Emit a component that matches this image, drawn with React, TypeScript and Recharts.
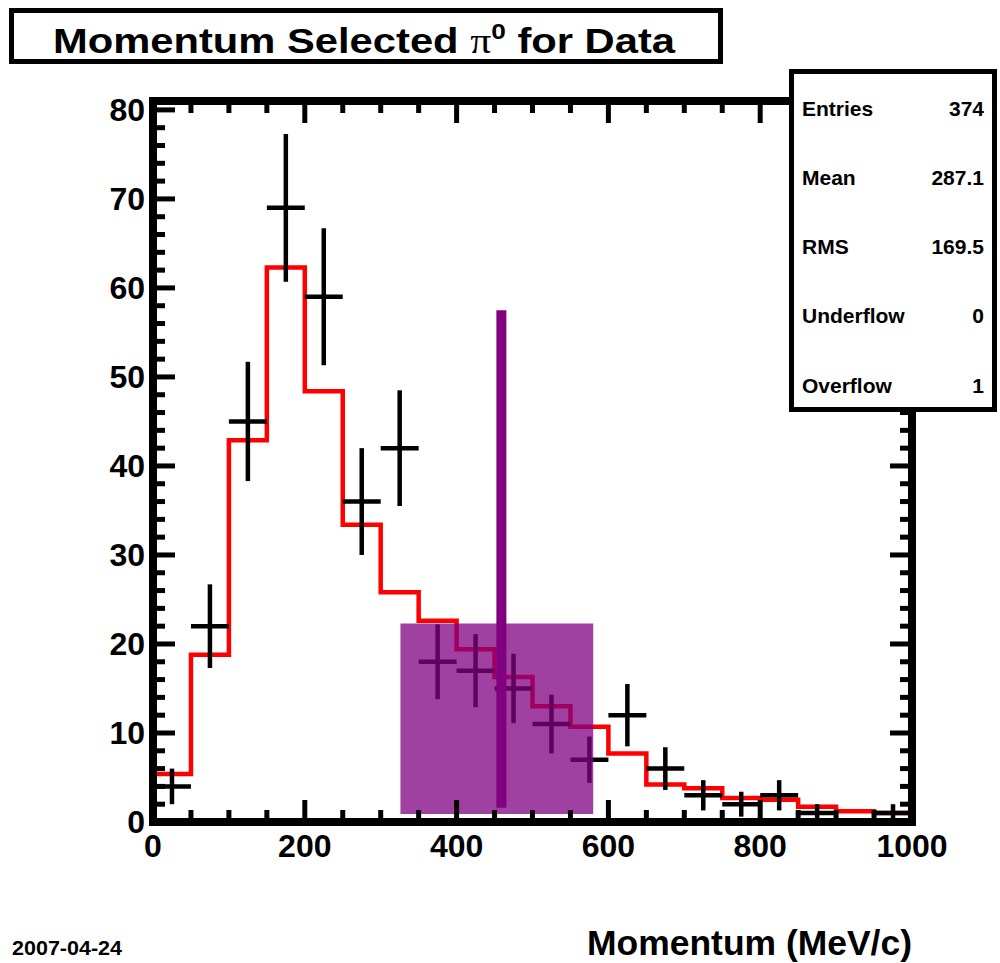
import React from 'react';
import { ComposedChart, Line, Scatter, ErrorBar, XAxis, YAxis, ReferenceArea, ReferenceLine } from 'recharts';

// histogram binning (MeV/c)
const binEdges = [0, 50, 100, 150, 200, 250, 300, 350, 400, 450, 500, 550, 600, 650, 700, 750, 800, 850, 900, 950, 1000];
const binCenters = [25, 75, 125, 175, 225, 275, 325, 375, 425, 475, 525, 575, 625, 675, 725, 775, 825, 875, 925, 975];

// red histogram (expectation)
const mcCounts = [5.4, 18.8, 42.9, 62.3, 48.4, 33.4, 25.8, 22.6, 19.4, 16.3, 13.0, 10.7, 7.7, 4.2, 3.8, 2.7, 2.5, 1.7, 1.2, 1.0];

// data points with errors
const dataCounts = [4, 22, 45, 69, 59, 36, 42, 18, 17, 15, 11, 7, 12, 6, 3, 2, 3, 1, null, 1];
const dataErrors = [2, 4.7, 6.7, 8.3, 7.7, 6, 6.5, 4.2, 4.1, 3.9, 3.3, 2.6, 3.5, 2.4, 1.7, 1.4, 1.7, 1, 0, 1];
const binHalfWidth = 25;

// selection window and marker
const windowX = [326, 580];
const windowY = [0.9, 22.3];
const markerX = 459;
const markerY = [1.6, 57.5];

// ticks
const xMajorTicks = [0, 200, 400, 600, 800, 1000];
const xAllTicks = [0, 50, 100, 150, 200, 250, 300, 350, 400, 450, 500, 550, 600, 650, 700, 750, 800, 850, 900, 950, 1000];
const yMajorTicks = [0, 10, 20, 30, 40, 50, 60, 70, 80];
const yAllTicks = [0, 2, 4, 6, 8, 10, 12, 14, 16, 18, 20, 22, 24, 26, 28, 30, 32, 34, 36, 38, 40, 42, 44, 46, 48, 50,
  52, 54, 56, 58, 60, 62, 64, 66, 68, 70, 72, 74, 76, 78, 80];

const stats = [
  ['Entries', '374'],
  ['Mean', '287.1'],
  ['RMS', '169.5'],
  ['Underflow', '0'],
  ['Overflow', '1'],
];

const histLine = binEdges.map((x, i) => ({ x, mc: mcCounts[Math.min(i, mcCounts.length - 1)] }));
const points = binCenters
  .map((x, i) => ({ x, y: dataCounts[i], ey: dataErrors[i], ex: binHalfWidth }))
  .filter((p) => p.y !== null);

const FONT = '"Liberation Sans", Arial, Helvetica, sans-serif';
const X_DOMAIN = [0, 1000];
const Y_DOMAIN = [0, 81];
const MAJOR = 22;
const MINOR = 12;
const frameLine = { stroke: '#000', strokeWidth: 8, strokeLinecap: 'square' as const };

// tick renderer: draws the inward tick line, plus the label on labelled sides
function makeTick(side: 'bottom' | 'top' | 'left' | 'right', majors: number[], labelled: boolean) {
  return (props: any) => {
    const { x, y, payload } = props;
    const v = payload.value;
    const len = majors.includes(v) ? MAJOR : MINOR;
    let x2 = x, y2 = y;
    if (side === 'bottom') y2 = y - len;
    if (side === 'top') y2 = y + len;
    if (side === 'left') x2 = x + len;
    if (side === 'right') x2 = x - len;
    return (
      <g>
        <line x1={x} y1={y} x2={x2} y2={y2} stroke="#000" strokeWidth={5} />
        {labelled && majors.includes(v) && side === 'bottom' && (
          <text x={x} y={y + 35} textAnchor="middle" fontFamily={FONT} fontWeight="bold" fontSize={32} fill="#000">{v}</text>
        )}
        {labelled && majors.includes(v) && side === 'left' && (
          <text x={x - 8} y={y + 11} textAnchor="end" fontFamily={FONT} fontWeight="bold" fontSize={32} fill="#000">{v}</text>
        )}
      </g>
    );
  };
}

export default function App() {
  return (
    <div style={{ position: 'absolute', left: 0, top: 0, width: 1000, height: 963, background: '#fff' }}>
      <ComposedChart width={1000} height={963} margin={{ top: 101, right: 88, bottom: 101, left: 93 }}>
        <XAxis type="number" dataKey="x" domain={X_DOMAIN} ticks={xAllTicks} interval={0} height={40}
          tickLine={false} tickSize={0} tickMargin={0} axisLine={frameLine} tick={makeTick('bottom', xMajorTicks, true)}
          allowDataOverflow />
        <YAxis type="number" domain={Y_DOMAIN} ticks={yAllTicks} interval={0} width={60}
          tickLine={false} tickSize={0} tickMargin={0} axisLine={frameLine} tick={makeTick('left', yMajorTicks, true)}
          allowDataOverflow />
        <XAxis xAxisId="top" orientation="top" type="number" dataKey="x" domain={X_DOMAIN} ticks={xAllTicks} interval={0}
          mirror allowDataOverflow tickLine={false} tickSize={0} tickMargin={0} axisLine={frameLine}
          tick={makeTick('top', xMajorTicks, false)} />
        <YAxis yAxisId="right" orientation="right" type="number" domain={Y_DOMAIN} ticks={yAllTicks} interval={0}
          mirror allowDataOverflow tickLine={false} tickSize={0} tickMargin={0} axisLine={frameLine}
          tick={makeTick('right', yMajorTicks, false)} />

        <Line data={histLine} dataKey="mc" type="stepAfter" stroke="#ff0000" strokeWidth={4.5} dot={false}
          activeDot={false} isAnimationActive={false} />
        <Scatter data={points} dataKey="y" shape={() => <g />} isAnimationActive={false}>
          <ErrorBar dataKey="ey" direction="y" width={0} stroke="#000" strokeWidth={4.5} isAnimationActive={false} />
          <ErrorBar dataKey="ex" direction="x" width={0} stroke="#000" strokeWidth={4.5} isAnimationActive={false} />
        </Scatter>

        <ReferenceArea x1={windowX[0]} x2={windowX[1]} y1={windowY[0]} y2={windowY[1]} fill="#800080"
          fillOpacity={0.75} stroke="none" zIndex={1000} />
        <ReferenceLine segment={[{ x: markerX, y: markerY[0] }, { x: markerX, y: markerY[1] }]} stroke="#800080"
          strokeWidth={10} zIndex={1001} />
      </ComposedChart>

      <svg width={1000} height={963} style={{ position: 'absolute', left: 0, top: 0, pointerEvents: 'none' }}>
        {/* title box */}
        <rect x={11.5} y={10.5} width={709} height={51} fill="#fff" stroke="#000" strokeWidth={5} />
        <text x={53} y={53} fontFamily={FONT} fontWeight="bold" fontSize={35} textLength={622} lengthAdjust="spacingAndGlyphs">
          Momentum Selected{' '}
          <tspan fontFamily='"Liberation Serif", "DejaVu Serif", serif' fontWeight="normal">π</tspan>
          <tspan fontSize={22} dy={-14}>0</tspan>
          <tspan dy={14}> for Data</tspan>
        </text>

        {/* stats box */}
        <rect x={791.5} y={71.5} width={203} height={338} fill="#fff" stroke="#000" strokeWidth={5} />
        {stats.map(([k, v], i) => (
          <g key={k} fontFamily={FONT} fontWeight="bold" fontSize={21}>
            <text x={802} y={108 + i * 69.3} dominantBaseline="central">{k}</text>
            <text x={984} y={108 + i * 69.3} dominantBaseline="central" textAnchor="end">{v}</text>
          </g>
        ))}

        <text x={12} y={955} fontFamily={FONT} fontWeight="bold" fontSize={20} textLength={110} lengthAdjust="spacingAndGlyphs">
          2007-04-24
        </text>
        <text x={912} y={955} fontFamily={FONT} fontWeight="bold" fontSize={35} textAnchor="end" textLength={325}
          lengthAdjust="spacingAndGlyphs">
          Momentum (MeV/c)
        </text>
      </svg>
    </div>
  );
}
